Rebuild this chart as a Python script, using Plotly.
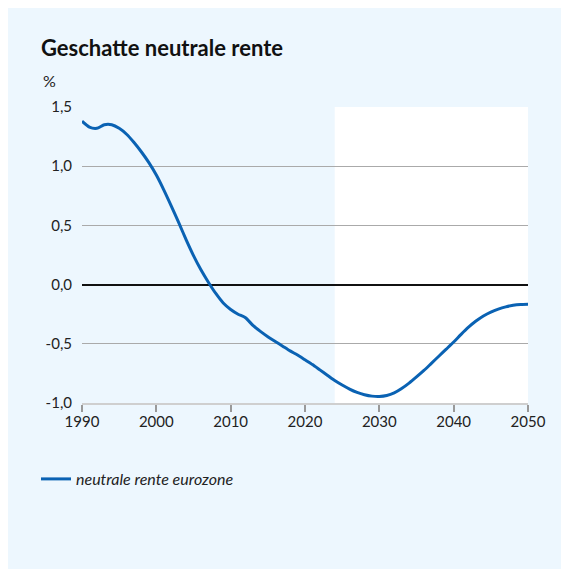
import plotly.graph_objects as go

years = list(range(1990, 2051))
rente = [1.38, 1.33, 1.32, 1.35, 1.35, 1.32, 1.27, 1.20, 1.12, 1.03,
         0.925, 0.80, 0.665, 0.525, 0.38, 0.245, 0.125, 0.02, -0.075, -0.155,
         -0.21, -0.25, -0.28, -0.345, -0.395, -0.44, -0.48, -0.52, -0.56, -0.595,
         -0.635, -0.675, -0.72, -0.765, -0.81, -0.848, -0.882, -0.91, -0.93, -0.942,
         -0.945, -0.937, -0.915, -0.878, -0.832, -0.78, -0.725, -0.665, -0.605, -0.545,
         -0.485, -0.42, -0.36, -0.308, -0.265, -0.232, -0.207, -0.188, -0.175, -0.168,
         -0.166]
series_name = "neutrale rente eurozone"
title_text = "Geschatte neutrale rente"
unit_text = "%"
y_tickvals = [-1.0, -0.5, 0.0, 0.5, 1.0, 1.5]
y_ticktext = ["-1,0", "-0,5", "0,0", "0,5", "1,0", "1,5"]
x_tickvals = [1990, 2000, 2010, 2020, 2030, 2040, 2050]
forecast_start = 2024

OFF = 8  # page body margin
W = H = 569
ML, MR, MT, MB = 74, 49, 99, 174
PW = W - ML - MR
PH = H - MT - MB
BG = "#edf7fe"
FONT = "Lato"

def px_x(p):  # page pixel -> paper
    return (p - OFF - ML) / PW

def px_y(p):
    return (H - MB - (p - OFF)) / PH

fig = go.Figure()
fig.add_trace(go.Scatter(
    x=years, y=rente, mode="lines", name="<i>" + series_name + "</i>",
    line=dict(color="#0a62b3", width=3, shape="spline", smoothing=0.6),
))

shapes = [
    dict(type="rect", xref="x", yref="y", x0=forecast_start, x1=2050, y0=-1.0, y1=1.5,
         fillcolor="white", line=dict(width=0), layer="below"),
]

annotations = [
    dict(text="<b>" + title_text + "</b>", xref="paper", yref="paper",
         x=px_x(39), y=px_y(48), xanchor="left", yanchor="middle", showarrow=False,
         font=dict(family=FONT, size=22, color="#111")),
    dict(text=unit_text, xref="paper", yref="paper",
         x=px_x(41), y=px_y(80), xanchor="left", yanchor="middle", showarrow=False,
         font=dict(family=FONT, size=16, color="#222")),
]

fig.update_layout(
    width=W, height=H,
    margin=dict(l=ML, r=MR, t=MT, b=MB, autoexpand=False),
    paper_bgcolor=BG, plot_bgcolor="rgba(0,0,0,0)",
    font=dict(family=FONT, size=15, color="#222"),
    shapes=shapes, annotations=annotations,
    showlegend=True,
    legend=dict(x=px_x(36), y=px_y(479), xanchor="left", yanchor="middle",
                bgcolor="rgba(0,0,0,0)", font=dict(family=FONT, size=16, color="#222"),
                itemwidth=30),
    xaxis=dict(range=[1990, 2050], tickvals=x_tickvals, showgrid=False, zeroline=False,
               showline=True, linecolor="#cfcfcf", linewidth=2,
               ticks="outside", ticklen=7, tickwidth=1.5, tickcolor="#999",
               ticklabelstandoff=-3, fixedrange=True),
    yaxis=dict(range=[-1.0, 1.5], tickvals=y_tickvals, ticktext=y_ticktext,
               showgrid=True, gridcolor="#aaaaaa", gridwidth=1,
               zeroline=True, zerolinecolor="#111", zerolinewidth=2,
               ticks="", ticklabelstandoff=9, fixedrange=True),
)

fig.write_html("out.html")
